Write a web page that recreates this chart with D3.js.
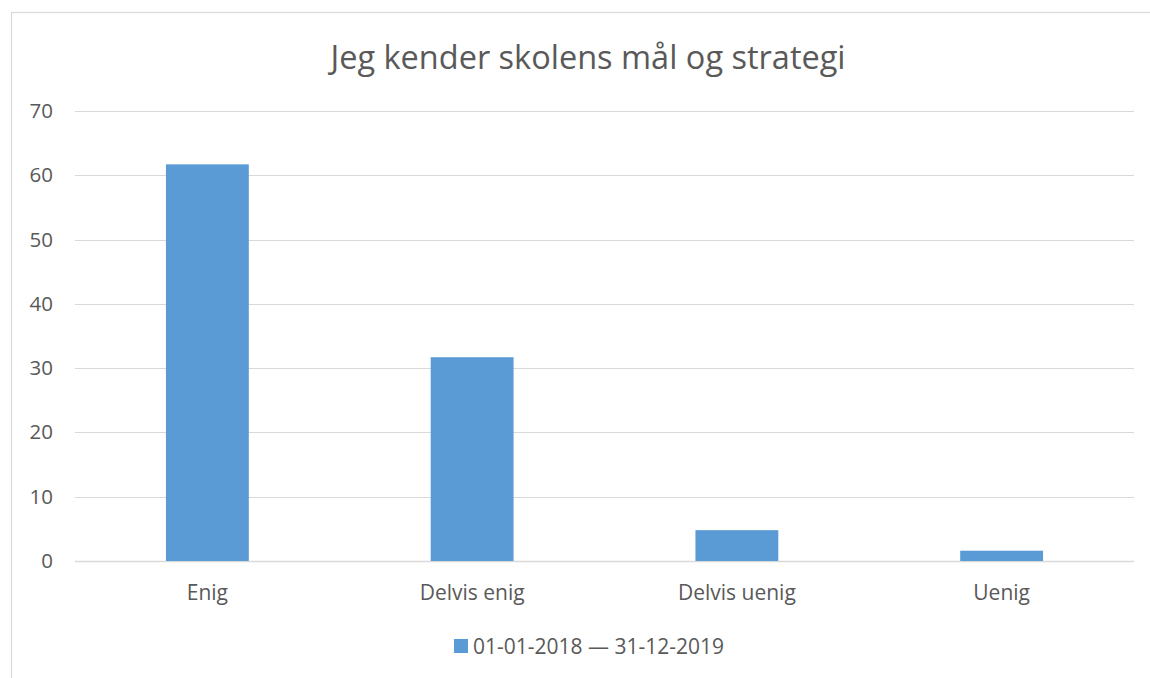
<!DOCTYPE html>
<html>
<head>
<meta charset="utf-8">
<script src="https://cdn.jsdelivr.net/npm/d3@7"></script>
<style>
html,body{margin:0;padding:0;background:#fff;}
svg{display:block;font-family:"Open Sans",sans-serif;}
</style>
</head>
<body>
<svg id="chart" width="1150" height="678"></svg>
<script>
const categories = ["Enig", "Delvis enig", "Delvis uenig", "Uenig"];
const values = [61.7, 31.7, 4.8, 1.6];
const yTicks = [0, 10, 20, 30, 40, 50, 60, 70];
const seriesName = "01-01-2018 \u2014 31-12-2019";
const title = "Jeg kender skolens m\u00e5l og strategi";

const svg = d3.select("#chart");
const textColor = "#595959";
const gridColor = "#d9d9d9";
const barColor = "#5b9bd5";

// chart border
svg.append("rect").attr("x", 11.5).attr("y", 12.5).attr("width", 1150).attr("height", 700)
  .attr("fill", "#fff").attr("stroke", "#d9d9d9").attr("stroke-width", 1.2);

const plot = {left: 75, right: 1134, top: 111, bottom: 561};

const x = d3.scaleBand().domain(categories).range([plot.left, plot.right]).paddingInner(0.687).paddingOuter(0.3435);
const y = d3.scaleLinear().domain([0, 70]).range([plot.bottom, plot.top]);

// gridlines
svg.append("g").selectAll("line").data(yTicks).join("line")
  .attr("x1", plot.left).attr("x2", plot.right)
  .attr("y1", d => Math.round(y(d)) + 0.5).attr("y2", d => Math.round(y(d)) + 0.5)
  .attr("stroke", gridColor).attr("stroke-width", d => d === 0 ? 1.5 : 1);

// y axis labels
const yAxis = d3.axisLeft(y).tickValues(yTicks).tickSize(0).tickPadding(0);
const gy = svg.append("g").attr("transform", `translate(53,0)`).call(yAxis);
gy.select(".domain").remove();
gy.selectAll("text").attr("fill", textColor).style("font-size", "20.5px").style("font-family", "'Open Sans',sans-serif");

// bars
svg.append("g").selectAll("rect").data(values).join("rect")
  .attr("x", (d, i) => x(categories[i]))
  .attr("width", x.bandwidth())
  .attr("y", d => y(d))
  .attr("height", d => y(0) - y(d))
  .attr("fill", barColor);

// x axis labels
const xAxis = d3.axisBottom(x).tickSize(0).tickPadding(0);
const gx = svg.append("g").attr("transform", `translate(0,585)`).call(xAxis);
gx.select(".domain").remove();
gx.selectAll("text").attr("fill", textColor).style("font-size", "21px").style("font-family", "'Open Sans',sans-serif");

// title
svg.append("text").attr("x", 588).attr("y", 69).attr("text-anchor", "middle")
  .attr("fill", textColor).style("font-size", "32.5px").text(title);

// legend
const lg = svg.append("g");
lg.append("rect").attr("x", 454).attr("y", 639).attr("width", 14).attr("height", 14).attr("fill", barColor);
lg.append("text").attr("x", 473).attr("y", 654).attr("fill", textColor).style("font-size", "21px").text(seriesName);
</script>
</body>
</html>
